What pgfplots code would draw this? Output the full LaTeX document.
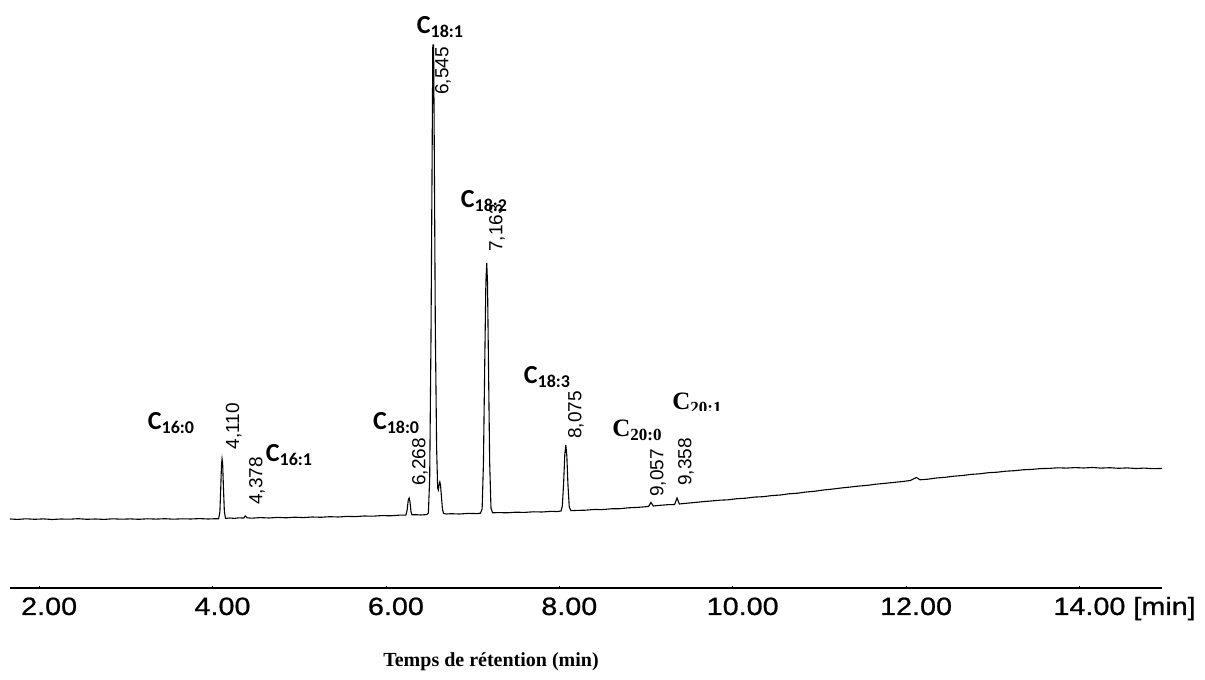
\documentclass[border=0pt]{standalone}
\usepackage{fontspec}
\setmainfont{Liberation Serif}
\usepackage{pgfplots}
\pgfplotsset{compat=1.18}
\newfontfamily\arialx[FakeStretch=1.15,FakeBold=0.8]{Liberation Sans}
\newfontfamily\arial{Liberation Sans}
\newfontfamily\calibri{Carlito}
\newfontfamily\timesf{Liberation Serif}
\newcommand\cc[1]{{\calibri\bfseries\fontsize{26}{26}\selectfont C\raisebox{-4pt}{\fontsize{18}{18}\selectfont #1}}}
\newcommand\ct[1]{{\timesf\bfseries\fontsize{25}{25}\selectfont C\raisebox{-4pt}{\fontsize{17}{17}\selectfont #1}}}
\newcommand\rt[1]{{\arial\fontsize{19}{19}\selectfont #1}}

\pgfplotstableread{
t s
1.664 69.0
1.75 68.6
1.85 69.2
1.95 68.7
2.05 69.1
2.15 68.5
2.25 69.0
2.35 68.8
2.45 69.3
2.55 68.7
2.65 69.0
2.75 68.6
2.85 69.2
2.95 68.8
3.05 69.1
3.15 68.7
3.25 69.2
3.35 68.9
3.45 69.3
3.55 68.8
3.65 69.2
3.75 69.0
3.85 69.4
3.95 69.0
4.04 69.3
4.07 69.2
4.085 76
4.095 100
4.103 122
4.110 129
4.117 124
4.126 100
4.137 76
4.15 69.6
4.2 70.0
4.25 69.6
4.30 70.1
4.36 70.0
4.378 72.0
4.40 70.2
4.45 69.8
4.55 70.4
4.65 70.0
4.75 70.6
4.85 70.2
4.95 70.8
5.05 70.4
5.15 71.0
5.25 70.7
5.35 71.3
5.45 71.0
5.55 71.6
5.65 71.4
5.75 72.0
5.85 71.8
5.95 72.4
6.05 72.2
6.15 72.8
6.23 72.9
6.245 78
6.258 88
6.268 90
6.278 86
6.29 76
6.30 73.2
6.35 73.3
6.40 73.0
6.47 73.4
6.49 75
6.505 110
6.52 250
6.533 430
6.541 543
6.550 543
6.558 440
6.570 260
6.585 140
6.597 100
6.605 98
6.615 104
6.622 106
6.63 103
6.64 92
6.652 79
6.665 74.5
6.70 74.0
6.75 74.3
6.85 74.0
6.95 74.6
7.05 74.4
7.09 74.8
7.11 79
7.125 125
7.14 225
7.153 305
7.163 325
7.172 305
7.183 225
7.197 125
7.212 80
7.23 75.2
7.30 75.4
7.40 75.2
7.50 75.8
7.60 75.6
7.70 76.2
7.80 76.0
7.90 76.6
7.98 76.5
8.02 77.0
8.035 82
8.05 105
8.063 133
8.075 143
8.087 132
8.10 103
8.115 81
8.135 77.3
8.20 77.6
8.30 77.8
8.40 78.5
8.50 78.4
8.60 79.2
8.70 79.3
8.80 80.2
8.90 80.6
9.00 81.3
9.03 81.6
9.057 85.5
9.085 82.0
9.15 82.6
9.25 83.3
9.33 83.5
9.358 90.0
9.385 84.0
9.45 84.6
9.55 85.4
9.65 86.3
9.75 87.0
9.85 87.8
9.95 88.2
10.05 89.3
10.15 89.8
10.25 90.9
10.35 91.3
10.45 92.4
10.55 93.0
10.65 94.2
10.75 94.8
10.85 96.0
10.95 96.8
11.05 98.0
11.15 98.9
11.25 100.0
11.35 100.9
11.45 101.9
11.55 102.6
11.65 103.8
11.75 104.6
11.85 105.5
11.95 106.4
12.05 107.5
12.12 110.5
12.16 108.2
12.25 108.8
12.35 110.0
12.45 110.7
12.55 111.8
12.65 112.5
12.75 113.6
12.85 114.2
12.95 115.3
13.05 115.8
13.15 116.8
13.25 117.3
13.35 118.2
13.45 118.6
13.55 119.4
13.65 119.6
13.75 120.2
13.85 119.9
13.95 120.4
14.05 120.0
14.15 120.5
14.25 119.9
14.35 120.3
14.45 119.7
14.55 120.1
14.65 119.5
14.75 119.9
14.85 119.3
14.952 119.6
}\chrom

\begin{document}
\begin{tikzpicture}
\useasboundingbox (0,0) rectangle (1205pt,680pt);
\begin{axis}[
  at={(10pt,92pt)}, anchor=south west,
  scale only axis, width=1152pt, height=543pt,
  xmin=1.664, xmax=14.952, ymin=0, ymax=543,
  axis x line*=bottom, axis y line=none,
  x axis line style={line width=1.5pt, black},
  xtick={2,4,6,8,10,12,14},
  xticklabels={2.00,4.00,6.00,8.00,10.00,12.00,{14.00\rlap{ [min]}}},
  xticklabel style={font={\arialx\fontsize{25}{25}\selectfont}, anchor=base, xshift=10pt, yshift=-27pt},
  major tick length=2pt, tick align=inside,
  tick style={line width=0.6pt, black},
  clip=false,
]
\addplot[black, line width=1.1pt] table[x=t, y=s] {\chrom};

\node[inner sep=0] at (axis cs:3.521,165) {\cc{16:0}};
\node[inner sep=0] at (axis cs:4.882,133) {\cc{16:1}};
\node[inner sep=0] at (axis cs:6.117,165) {\cc{18:0}};
\node[inner sep=0] at (axis cs:6.624,561) {\cc{18:1}};
\node[inner sep=0] at (axis cs:7.131,387) {\cc{18:2}};
\node[inner sep=0] at (axis cs:7.858,211) {\cc{18:3}};
\node[inner sep=0] at (axis cs:8.896,158) {\ct{20:0}};
\begin{scope}
\clip (axis cs:9.1,177) rectangle (axis cs:10.2,230);
\node[inner sep=0] at (axis cs:9.588,185) {\ct{20:1}};
\end{scope}

\node[inner sep=0, rotate=90] at (axis cs:4.245,162) {\rt{4,110}};
\node[inner sep=0, rotate=90] at (axis cs:4.513,107) {\rt{4,378}};
\node[inner sep=0, rotate=90] at (axis cs:6.393,126) {\rt{6,268}};
\node[inner sep=0, rotate=90] at (axis cs:6.659,517) {\rt{6,545}};
\node[inner sep=0, rotate=90] at (axis cs:7.281,360) {\rt{7,163}};
\node[inner sep=0, rotate=90] at (axis cs:8.193,173) {\rt{8,075}};
\node[inner sep=0, rotate=90] at (axis cs:9.138,115) {\rt{9,057}};
\node[inner sep=0, rotate=90] at (axis cs:9.461,126) {\rt{9,358}};
\end{axis}
\node[font={\bfseries\fontsize{20}{20}\selectfont}] at (491pt,18pt) {Temps de rétention (min)};
\end{tikzpicture}
\end{document}
